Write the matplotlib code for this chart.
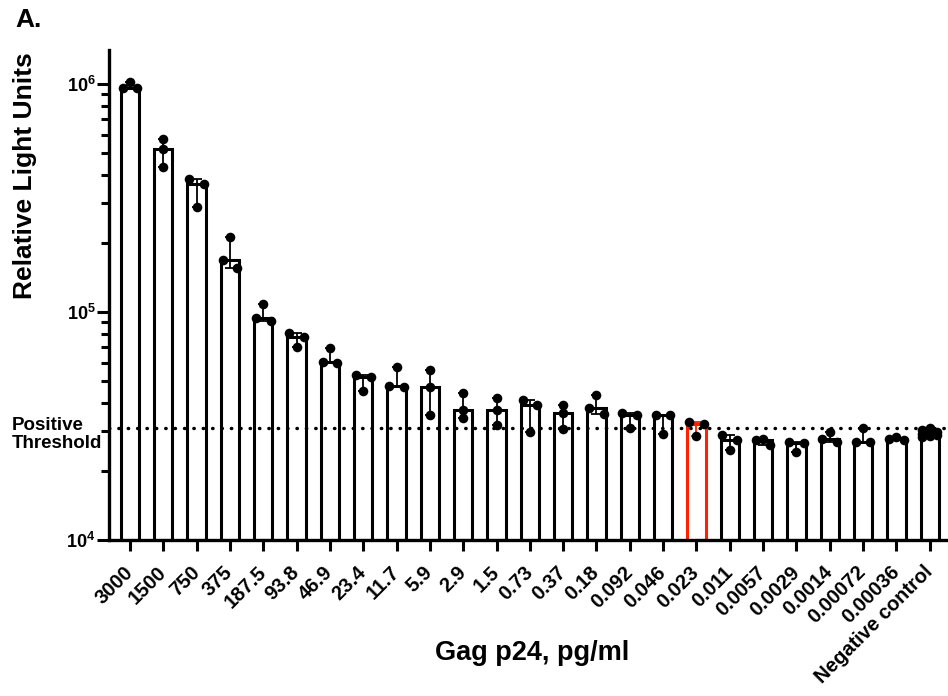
"""Luciferase readout vs Gag p24 dilution (log scale, median + range)."""

import numpy as np
import matplotlib
matplotlib.use("Agg")
import matplotlib.pyplot as plt
from matplotlib.ticker import LogLocator, NullFormatter

plt.rcParams["font.family"] = ["Liberation Sans", "DejaVu Sans"]
plt.rcParams["font.weight"] = "bold"
plt.rcParams["mathtext.fontset"] = "custom"
plt.rcParams["mathtext.rm"] = "Liberation Sans:bold"
plt.rcParams["mathtext.bf"] = "Liberation Sans:bold"

# p24 input, pg/ml
dilutions = ["3000", "1500", "750", "375", "187.5", "93.8", "46.9", "23.4",
             "11.7", "5.9", "2.9", "1.5", "0.73", "0.37", "0.18", "0.092",
             "0.046", "0.023", "0.011", "0.0057", "0.0029", "0.0014",
             "0.00072", "0.00036"]

# three replicates per dilution, RLU
rep_a = [1017000, 572000, 383000, 213000, 108000, 80600, 69300, 52900,
         57500, 55700, 44300, 41800, 41000, 39100, 43300, 35900,
         35400, 33000, 28900, 27600, 26900, 29900, 30900, 28400]
rep_b = [965000, 520000, 363000, 169000, 94000, 77900, 60400, 51700,
         47200, 47000, 37200, 37200, 39000, 35900, 37800, 35500,
         35200, 32300, 27500, 27400, 26700, 27700, 27000, 27700]
rep_c = [958000, 434000, 290000, 156000, 91500, 70400, 59900, 45000,
         46800, 35300, 34200, 31900, 29900, 30600, 35700, 30900,
         29200, 28600, 24800, 26200, 24400, 27000, 26800, 27500]
negative_control = [31000, 30400, 29900, 29500, 29200, 28900, 28600, 28200]

threshold = 31000
highlight = "0.023"

labels = dilutions + ["Negative control"]
groups = [[a, b, c] for a, b, c in zip(rep_a, rep_b, rep_c)] + [negative_control]
x = np.arange(len(labels))
medians = np.array([np.median(g) for g in groups])
lows = np.array([min(g) for g in groups])
highs = np.array([max(g) for g in groups])
colors = ["#ff2200" if lab == highlight else "black" for lab in labels]


def spread(vals, d=0.22, gap=0.035):
    # simple swarm: points closer than `gap` decades get pushed sideways
    order = np.argsort(vals)[::-1]
    logs = np.log10(np.asarray(vals, dtype=float))
    offs = np.zeros(len(vals))
    clusters = [[order[0]]]
    for idx in order[1:]:
        if logs[clusters[-1][-1]] - logs[idx] < gap:
            clusters[-1].append(idx)
        else:
            clusters.append([idx])
    for cl in clusters:
        if len(cl) == 2:
            offs[cl[0]], offs[cl[1]] = -d, d
        elif len(cl) >= 3:
            for k, idx in enumerate(cl):
                offs[idx] = [0, -d, d][k % 3]
    return offs


fig = plt.figure(figsize=(9.48, 6.96), dpi=100)
ax = fig.add_axes([109 / 948, 1 - 540 / 696, 839 / 948, 490 / 696])
ax.set_yscale("log")

ax.bar(x, medians - 1e4, bottom=1e4, width=0.55, facecolor="white",
       edgecolor=colors, linewidth=2.2, zorder=2)

for i in x:
    ax.errorbar(x[i], medians[i],
                yerr=[[medians[i] - lows[i]], [highs[i] - medians[i]]],
                fmt="none", ecolor=colors[i], elinewidth=1.3, capsize=3.5,
                capthick=1.3, zorder=3)

ax.axhline(threshold, color="black", lw=2.5, linestyle=(0, (0.1, 2.6)),
           dash_capstyle="round", zorder=3)

for i, g in enumerate(groups):
    ax.scatter(x[i] + spread(g), g, s=48, color="black", zorder=4,
               clip_on=False, linewidths=0)

ax.set_ylim(1e4, 1.41e6)
ax.set_xlim(-0.63, 24.55)

for side in ["top", "right"]:
    ax.spines[side].set_visible(False)
for side in ["left", "bottom"]:
    ax.spines[side].set_linewidth(2.4)

ax.set_xticks(x)
ax.set_xticklabels(labels, rotation=45, ha="right", va="center",
                   rotation_mode="anchor", fontsize=14.5, fontweight="bold")
ax.tick_params(axis="x", length=8, width=2.2, pad=13)

ax.set_yticks([1e4, 1e5, 1e6])
ax.set_yticklabels([r"$\mathbf{10^{4}}$", r"$\mathbf{10^{5}}$", r"$\mathbf{10^{6}}$"])
ax.yaxis.set_minor_locator(LogLocator(base=10, subs=np.arange(2, 10)))
ax.yaxis.set_minor_formatter(NullFormatter())
ax.tick_params(axis="y", which="major", length=8.6, width=2.2, pad=1, labelsize=13)
ax.tick_params(axis="y", which="minor", length=5.5, width=2.2)

ax.set_ylabel("Relative Light Units", fontsize=19, fontweight="bold")
ax.yaxis.set_label_coords(-0.086, 0.743)
ax.set_xlabel("Gag p24, pg/ml", fontsize=19.5, fontweight="bold")
ax.xaxis.set_label_coords(0.504, -0.204)

fig.text(12 / 948, 1 - 417 / 696, "Positive\nThreshold", fontsize=13.5,
         fontweight="bold", va="top", ha="left", linespacing=1.1)
fig.text(15 / 948, 1 - 8 / 696, "A.", fontsize=19, fontweight="bold", va="top")

fig.savefig("out.png", dpi=100)
